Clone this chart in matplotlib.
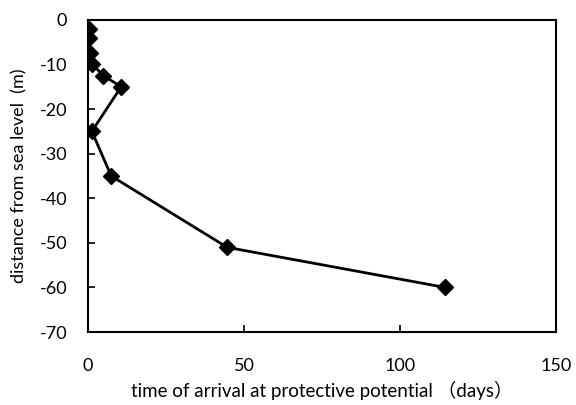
import numpy as np
import matplotlib
matplotlib.use("Agg")
import matplotlib.pyplot as plt

plt.rcParams['font.family'] = ['Lato', 'Noto Sans CJK JP', 'DejaVu Sans']
plt.rcParams['axes.unicode_minus'] = False

# tiempo de llegada (días) y profundidad (m)
days = [0.3, 0.4, 0.6, 1.4, 4.9, 10.6, 1.2, 7.4, 44.6, 114.6]
depth = [-2, -4, -7.5, -10, -12.5, -15, -25, -35, -51, -60]

fig = plt.figure(figsize=(5.76, 4.05), dpi=100)
ax = fig.add_axes([0.153, 0.18, 0.812, 0.771])

ax.plot(days, depth, color='black', linewidth=2, marker='D', markersize=8)

ax.set_xlim(0, 150)
ax.set_ylim(-70, 0)
ax.set_xticks([0, 50, 100, 150])
ax.set_yticks(np.arange(-70, 1, 10))

for s in ax.spines.values():
    s.set_linewidth(1.5)
    s.set_color('black')

ax.tick_params(axis='x', direction='in', length=5, width=1.2, pad=19, labelsize=13, top=False)
ax.tick_params(axis='y', direction='in', length=5, width=1.2, pad=15, labelsize=13, right=False)

ax.set_xlabel('time of arrival at protective potential （days）', fontsize=13.5, labelpad=5)
ax.set_ylabel('distance from sea level  (m)', fontsize=13, labelpad=9)

fig.savefig('out.png', dpi=100)
